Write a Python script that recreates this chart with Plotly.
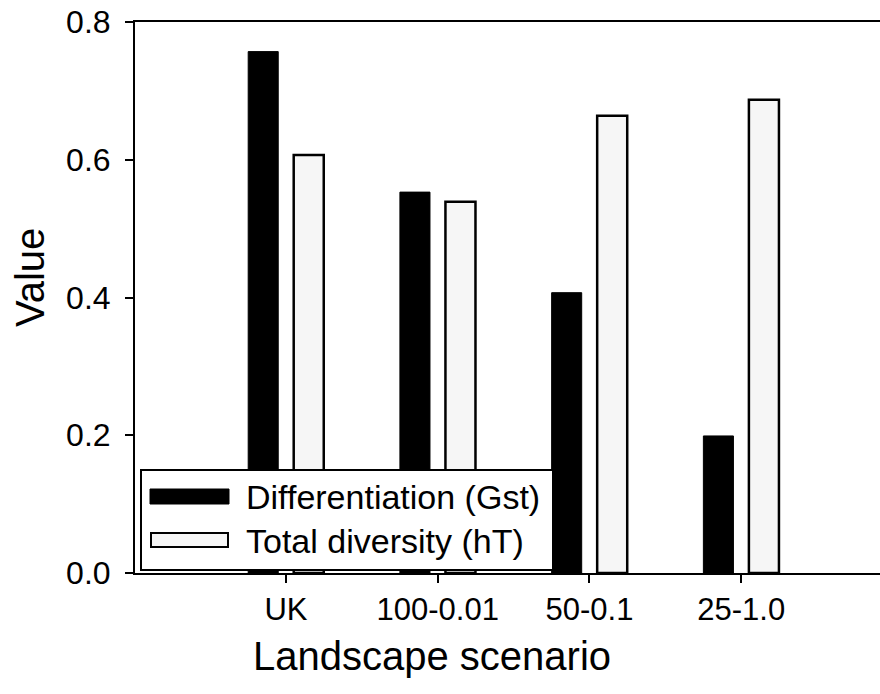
import plotly.graph_objects as go

categories = ["UK", "100-0.01", "50-0.1", "25-1.0"]
gst_values = [0.757, 0.553, 0.407, 0.199]
ht_values = [0.607, 0.539, 0.664, 0.687]
series_names = ["Differentiation (Gst)", "Total diversity (hT)"]
y_ticks = [0.0, 0.2, 0.4, 0.6, 0.8]
x_title = "Landscape scenario"
y_title = "Value"

W, H = 880, 694
L, R, T, B = 135, 0, 22, 121
PW = W - L - R
PH = H - T - B
FONT = "Liberation Sans, Arial, sans-serif"


def px(x):
    return (x - L) / PW


def py(y):
    return (H - B - y) / PH


fig = go.Figure()
fig.add_trace(go.Bar(
    x=categories, y=gst_values, name=series_names[0],
    marker=dict(color="#000000", line=dict(color="#000000", width=1)),
    showlegend=False,
))
fig.add_trace(go.Bar(
    x=categories, y=ht_values, name=series_names[1],
    marker=dict(color="#f6f6f6", line=dict(color="#000000", width=2.5)),
    showlegend=False,
))

shapes = []
annotations = []
# legend box
shapes.append(dict(type="rect", xref="paper", yref="paper",
                   x0=px(141), x1=px(553), y0=py(570), y1=py(470),
                   line=dict(color="#000", width=2), fillcolor="white", layer="above"))
shapes.append(dict(type="rect", xref="paper", yref="paper",
                   x0=px(150), x1=px(229), y0=py(504), y1=py(489),
                   line=dict(color="#000", width=1), fillcolor="#000", layer="above"))
shapes.append(dict(type="rect", xref="paper", yref="paper",
                   x0=px(151), x1=px(228), y0=py(547), y1=py(533),
                   line=dict(color="#000", width=2), fillcolor="#f6f6f6", layer="above"))
for name, yc in zip(series_names, [497, 541]):
    annotations.append(dict(text=name, xref="paper", yref="paper",
                            x=px(244), y=py(yc), xanchor="left", yanchor="middle",
                            showarrow=False, font=dict(size=34, color="#000", family=FONT)))
# axis titles
annotations.append(dict(text=x_title, xref="paper", yref="paper",
                        x=px(432), y=py(656), xanchor="center", yanchor="middle",
                        showarrow=False, font=dict(size=40, color="#000", family=FONT)))
annotations.append(dict(text=y_title, xref="paper", yref="paper",
                        x=px(30), y=py(278), xanchor="center", yanchor="middle",
                        textangle=-90,
                        showarrow=False, font=dict(size=40, color="#000", family=FONT)))

fig.update_layout(
    width=W, height=H,
    margin=dict(l=L, r=R, t=T, b=B, pad=0),
    paper_bgcolor="white", plot_bgcolor="white",
    barmode="group", bargap=0.40, bargroupgap=0.34,
    font=dict(family=FONT, color="#000", size=32),
    shapes=shapes, annotations=annotations,
    showlegend=False,
)
fig.update_xaxes(
    type="category", range=[-0.995, 3.915],
    showline=True, linecolor="#000", linewidth=2, mirror=True,
    ticks="outside", ticklen=8, tickwidth=2, tickcolor="#000",
    showgrid=False, zeroline=False,
    tickfont=dict(size=31, family=FONT, color="#000"),
    ticklabelstandoff=0,
)
fig.update_yaxes(
    range=[0, 0.8], tickvals=y_ticks, tickformat=".1f",
    showline=True, linecolor="#000", linewidth=2,
    ticks="outside", ticklen=8, tickwidth=2, tickcolor="#000",
    showgrid=False, zeroline=False,
    tickfont=dict(size=32, family=FONT, color="#000"),
    ticklabelstandoff=8,
)

fig.write_html("out.html")
